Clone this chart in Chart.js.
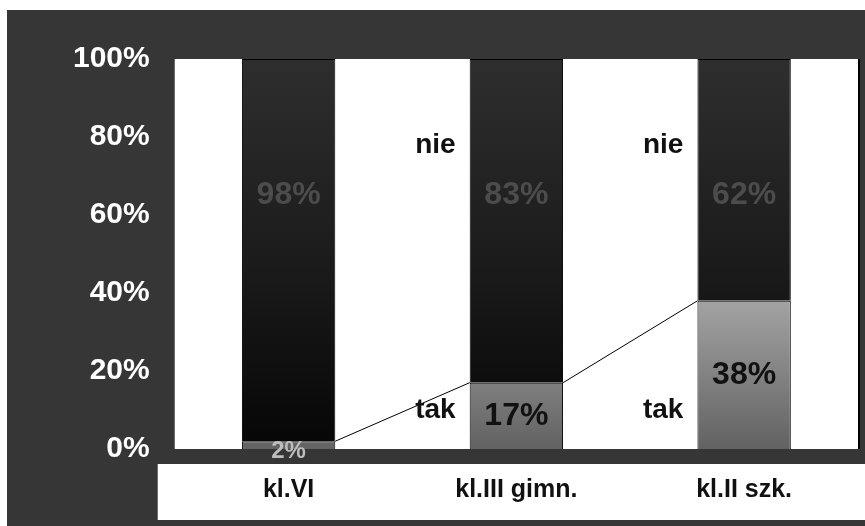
<!DOCTYPE html>
<html>
<head>
<meta charset="utf-8">
<script src="https://cdn.jsdelivr.net/npm/chart.js@4/dist/chart.umd.min.js"></script>
<style>
  html, body { margin: 0; padding: 0; background: #fff; }
  #wrap { width: 865px; height: 526px; }
</style>
</head>
<body>
<div id="wrap"><canvas id="wykres" width="865" height="526"></canvas></div>
<script>
// dane
const kategorie = ['kl.VI', 'kl.III gimn.', 'kl.II szk.'];
const tak = [2, 17, 38];
const nie = [98, 83, 62];
const podzialkaY = [0, 20, 40, 60, 80, 100];

const FONT = '"Liberation Sans", Arial, sans-serif';
const TLO = '#363636';

// gradient dla słupków (zależny od obszaru wykresu)
function gradient(ctx, stops) {
  const area = ctx.chart.chartArea;
  if (!area) return stops[0][1];
  const g = ctx.chart.ctx.createLinearGradient(0, area.bottom, 0, area.top);
  stops.forEach(([p, c]) => g.addColorStop(p, c));
  return g;
}

// tło: ciemna ramka, biały obszar wykresu i biały pas z etykietami osi X
const tloPlugin = {
  id: 'tlo',
  beforeDraw(chart) {
    const { ctx, chartArea: a, width, height } = chart;
    ctx.save();
    ctx.fillStyle = '#fff';
    ctx.fillRect(0, 0, width, height);
    ctx.fillStyle = TLO;
    ctx.fillRect(7, 10, width - 7, height - 10);
    ctx.fillStyle = '#fff';
    ctx.fillRect(a.left, a.top, a.right - a.left, a.bottom - a.top);
    ctx.fillRect(a.left - 17, a.bottom + 15, width - a.left + 17, 56);
    ctx.fillStyle = '#000';
    ctx.fillRect(a.right, a.top, 2, a.bottom - a.top);
    ctx.restore();
  }
};

// linie serii, etykiety wartości i nazwy serii
const opisyPlugin = {
  id: 'opisy',
  afterDatasetsDraw(chart) {
    const { ctx } = chart;
    const y = chart.scales.y;
    const mTak = chart.getDatasetMeta(0).data;
    const mNie = chart.getDatasetMeta(1).data;
    ctx.save();

    // linie łączące górne krawędzie serii "tak"
    ctx.strokeStyle = '#000';
    ctx.lineWidth = 1;
    for (let i = 0; i < mTak.length - 1; i++) {
      const a = mTak[i], b = mTak[i + 1];
      ctx.beginPath();
      ctx.moveTo(a.x + a.width / 2, a.y);
      ctx.lineTo(b.x - b.width / 2, b.y);
      ctx.stroke();
    }

    ctx.textAlign = 'center';
    ctx.textBaseline = 'middle';
    ctx.font = 'bold 32px ' + FONT;

    // wartości "nie"
    ctx.fillStyle = '#4c4c4c';
    mNie.forEach((b, i) => {
      ctx.fillText(nie[i] + '%', b.x, y.getPixelForValue(65));
    });

    // wartości "tak"
    mTak.forEach((b, i) => {
      ctx.fillStyle = tak[i] < 5 ? '#bdbdbd' : '#111';
      const sz = tak[i] < 5 ? 24 : 32;
      ctx.font = 'bold ' + sz + 'px ' + FONT;
      const yy = tak[i] < 5 ? y.getPixelForValue(-0.5) : y.getPixelForValue(tak[i] / 2);
      ctx.fillText(tak[i] + '%', b.x, yy);
    });

    // nazwy serii obok słupków
    ctx.font = 'bold 28px ' + FONT;
    ctx.textAlign = 'right';
    ctx.fillStyle = '#111';
    for (let i = 1; i < mTak.length; i++) {
      const xx = mTak[i].x - mTak[i].width / 2 - 14;
      ctx.fillText('nie', xx, y.getPixelForValue(78));
      ctx.fillText('tak', xx, y.getPixelForValue(10));
    }
    ctx.restore();
  }
};

new Chart(document.getElementById('wykres'), {
  type: 'bar',
  data: {
    labels: kategorie,
    datasets: [
      {
        label: 'tak',
        data: tak,
        backgroundColor: ctx => gradient(ctx, [[0, '#626262'], [0.4, '#a6a6a6'], [1, '#a6a6a6']]),
        borderColor: '#000',
        borderWidth: 1
      },
      {
        label: 'nie',
        data: nie,
        backgroundColor: ctx => gradient(ctx, [[0, '#060606'], [0.5, '#1c1c1c'], [1, '#2e2e2e']]),
        borderColor: '#000',
        borderWidth: 1
      }
    ]
  },
  options: {
    responsive: false,
    animation: false,
    categoryPercentage: 0.41,
    barPercentage: 1,
    layout: { padding: { left: 48, top: 59, right: 7, bottom: 0 } },
    plugins: {
      legend: { display: false },
      tooltip: { enabled: false }
    },
    scales: {
      x: {
        stacked: true,
        grid: { display: false, drawTicks: false },
        border: { display: false },
        afterFit: axis => { axis.height = 77; },
        ticks: {
          color: '#111',
          padding: 26,
          font: { family: FONT, size: 25, weight: 'bold' }
        }
      },
      y: {
        stacked: true,
        min: 0,
        max: 100,
        afterBuildTicks: axis => { axis.ticks = podzialkaY.map(v => ({ value: v })); },
        grid: { display: false, drawTicks: false },
        border: { display: false },
        ticks: {
          color: '#fff',
          padding: 25,
          callback: v => v + '%',
          font: { family: FONT, size: 30, weight: 'bold' }
        }
      }
    }
  },
  plugins: [tloPlugin, opisyPlugin]
});
</script>
</body>
</html>
